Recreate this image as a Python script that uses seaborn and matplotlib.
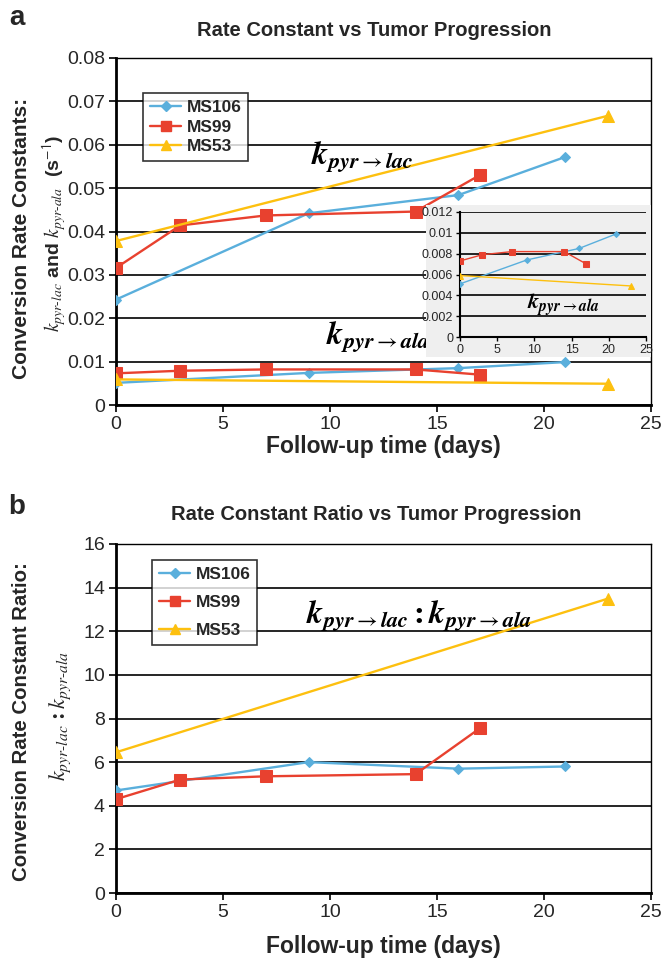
import matplotlib
matplotlib.use("Agg")
import matplotlib.pyplot as plt
import seaborn as sns
import pandas as pd
from matplotlib.patches import Rectangle
from matplotlib.lines import Line2D

# ---------------- data ----------------
samples = ["MS106", "MS99", "MS53"]

ms106_days = [0, 9, 16, 21]
ms106_lac = [0.0243, 0.0442, 0.0484, 0.0572]
ms106_ala = [0.0051, 0.0074, 0.0085, 0.0099]
ms106_ratio = [4.7, 6.0, 5.7, 5.8]

ms99_days = [0, 3, 7, 14, 17]
ms99_lac = [0.0316, 0.0414, 0.0437, 0.0446, 0.0530]
ms99_ala = [0.0073, 0.0079, 0.0082, 0.0082, 0.0070]
ms99_ratio = [4.3, 5.2, 5.35, 5.45, 7.55]

ms53_days = [0, 23]
ms53_lac = [0.0378, 0.0667]
ms53_ala = [0.0059, 0.0049]
ms53_ratio = [6.45, 13.5]

x_ticks = [0, 5, 10, 15, 20, 25]
ya_ticks = [0, 0.01, 0.02, 0.03, 0.04, 0.05, 0.06, 0.07, 0.08]
ya_labels = ["0", "0.01", "0.02", "0.03", "0.04", "0.05", "0.06", "0.07", "0.08"]
yin_ticks = [0, 0.002, 0.004, 0.006, 0.008, 0.01, 0.012]
yin_labels = ["0", "0.002", "0.004", "0.006", "0.008", "0.01", "0.012"]
yb_ticks = [0, 2, 4, 6, 8, 10, 12, 14, 16]

colors = {"MS106": "#5aafdc", "MS99": "#e8412f", "MS53": "#fdc00f"}
markers = {"MS106": "D", "MS99": "s", "MS53": "^"}
msize = {"MS106": 5.5, "MS99": 8, "MS53": 8}

rows = []
for s, d, lac, ala, rat in [("MS106", ms106_days, ms106_lac, ms106_ala, ms106_ratio),
                            ("MS99", ms99_days, ms99_lac, ms99_ala, ms99_ratio),
                            ("MS53", ms53_days, ms53_lac, ms53_ala, ms53_ratio)]:
    for i in range(len(d)):
        rows.append({"sample": s, "day": d[i], "lac": lac[i], "ala": ala[i], "ratio": rat[i]})
df = pd.DataFrame(rows)

# ---------------- style ----------------
sns.set_style("white")
plt.rcParams["font.family"] = ["Liberation Sans", "DejaVu Sans"]
plt.rcParams["mathtext.fontset"] = "stix"

W, H = 662, 959
fig = plt.figure(figsize=(W / 100, H / 100), dpi=100)


def ax_rect(l, r, t, b):
    return [l / W, 1 - b / H, (r - l) / W, (b - t) / H]


def draw_series(ax, ycol, ms_scale=1.0, lw=1.7):
    for s in samples:
        sub = df[df["sample"] == s]
        sns.lineplot(data=sub, x="day", y=ycol, ax=ax, color=colors[s],
                     marker=markers[s], markersize=msize[s] * ms_scale,
                     markeredgecolor=colors[s], linewidth=lw, legend=False,
                     estimator=None, sort=False, label=s, zorder=3)


def style_axes(ax, yticks, ylabels, xlim, ylim, tick_fs=14, grid_lw=1.2):
    ax.set_xlim(*xlim)
    ax.set_ylim(*ylim)
    ax.set_xticks(x_ticks)
    ax.set_yticks(yticks)
    if ylabels is not None:
        ax.set_yticklabels(ylabels)
    ax.tick_params(axis="both", labelsize=tick_fs, direction="out", length=5,
                   width=1.2, color="black", pad=3, left=True, bottom=True)
    ax.yaxis.grid(True, color="black", linewidth=grid_lw)
    ax.xaxis.grid(False)
    ax.set_axisbelow(True)
    for sp in ["top", "right"]:
        ax.spines[sp].set_color("black")
        ax.spines[sp].set_linewidth(1.0)
    for sp in ["left", "bottom"]:
        ax.spines[sp].set_color("black")
        ax.spines[sp].set_linewidth(2.0)
    ax.set_xlabel("")
    ax.set_ylabel("")


def make_legend(ax, loc_bbox, spacing):
    handles = [Line2D([0], [0], color=colors[s], marker=markers[s],
                      markersize=msize[s] * 0.9, markeredgecolor=colors[s],
                      linewidth=1.7) for s in samples]
    leg = ax.legend(handles, samples, loc="upper left", bbox_to_anchor=loc_bbox,
                    bbox_transform=fig.transFigure, frameon=True, fancybox=False,
                    edgecolor="black", prop={"weight": "bold", "size": 12.5},
                    handlelength=1.8, handletextpad=0.3, borderpad=0.4,
                    labelspacing=spacing, borderaxespad=0)
    leg.get_frame().set_linewidth(1.2)
    leg.set_zorder(10)


K_LAC = r"$\mathbfit{k}_{\mathbfit{pyr}{\rightarrow}\mathbfit{lac}}$"
K_ALA = r"$\mathbfit{k}_{\mathbfit{pyr}{\rightarrow}\mathbfit{ala}}$"
K_RATIO = (r"$\mathbfit{k}_{\mathbfit{pyr}{\rightarrow}\mathbfit{lac}}\mathbf{:}"
           r"\mathbfit{k}_{\mathbfit{pyr}{\rightarrow}\mathbfit{ala}}$")

# ---------------- panel a ----------------
axA = fig.add_axes(ax_rect(116, 651, 58, 405))
draw_series(axA, "lac")
draw_series(axA, "ala")
style_axes(axA, ya_ticks, ya_labels, (0, 25), (0, 0.08))
axA.set_xlabel("Follow-up time (days)", fontsize=16.5, fontweight="bold")
axA.xaxis.set_label_coords(0.5, (405 - 435) / 347)
make_legend(axA, (143 / W, 1 - 93 / H), 0.25)
axA.text(9.1, 0.0555, K_LAC, fontsize=23, color="black", zorder=6)
axA.text(9.8, 0.0142, K_ALA, fontsize=23, color="black", zorder=6)

# gray inset background
bg = Rectangle((426 / W, 1 - 357 / H), (652 - 426) / W, (357 - 205) / H,
               transform=fig.transFigure, facecolor="#efefef", edgecolor="none",
               zorder=7)
axA.add_artist(bg)

axIn = fig.add_axes(ax_rect(460, 646, 212, 337))
axIn.set_facecolor("none")
draw_series(axIn, "ala", ms_scale=0.55, lw=1.0)
style_axes(axIn, yin_ticks, yin_labels, (0, 25), (0, 0.012), tick_fs=9, grid_lw=1.2)
axIn.tick_params(length=3, width=1.0, pad=2)
for sp in ["top", "right"]:
    axIn.spines[sp].set_visible(False)
for sp in ["left", "bottom"]:
    axIn.spines[sp].set_linewidth(1.5)
axIn.text(9.0, 0.0026, K_ALA, fontsize=16, color="black", zorder=6)

# ---------------- panel b ----------------
axB = fig.add_axes(ax_rect(116, 651, 544, 893))
draw_series(axB, "ratio")
style_axes(axB, yb_ticks, None, (0, 25), (0, 16))
axB.set_xlabel("Follow-up time (days)", fontsize=16.5, fontweight="bold")
axB.xaxis.set_label_coords(0.5, (893 - 935) / 349)
make_legend(axB, (152 / W, 1 - 560 / H), 0.75)
axB.text(8.9, 12.4, K_RATIO, fontsize=23, color="black", zorder=6)

# ---------------- titles and labels ----------------
fig.text(374 / W, 1 - 31 / H, "Rate Constant vs Tumor Progression",
         ha="center", va="center", fontsize=14.5, fontweight="bold")
fig.text(376 / W, 1 - 515 / H, "Rate Constant Ratio vs Tumor Progression",
         ha="center", va="center", fontsize=14.5, fontweight="bold")
fig.text(17 / W, 1 - 18 / H, "a", ha="center", va="center", fontsize=20, fontweight="bold")
fig.text(17 / W, 1 - 507 / H, "b", ha="center", va="center", fontsize=20, fontweight="bold")

fig.text(22 / W, 1 - 238 / H, "Conversion Rate Constants:", rotation=90,
         ha="center", va="center", fontsize=15, fontweight="bold")
fig.text(54 / W, 1 - 233 / H,
         r"$\mathit{k}_{\mathit{pyr\text{-}lac}}$ and $\mathit{k}_{\mathit{pyr\text{-}ala}}$  (s$^{\mathsf{-1}}$)",
         rotation=90, ha="center", va="center", fontsize=14, fontweight="bold")

fig.text(22 / W, 1 - 722 / H, "Conversion Rate Constant Ratio:", rotation=90,
         ha="center", va="center", fontsize=14.7, fontweight="bold")
fig.text(60 / W, 1 - 716 / H,
         r"$\mathit{k}_{\mathit{pyr\text{-}lac}}\,\mathbf{:}\mathit{k}_{\mathit{pyr\text{-}ala}}$",
         rotation=90, ha="center", va="center", fontsize=16)

fig.savefig("out.png", dpi=100)
